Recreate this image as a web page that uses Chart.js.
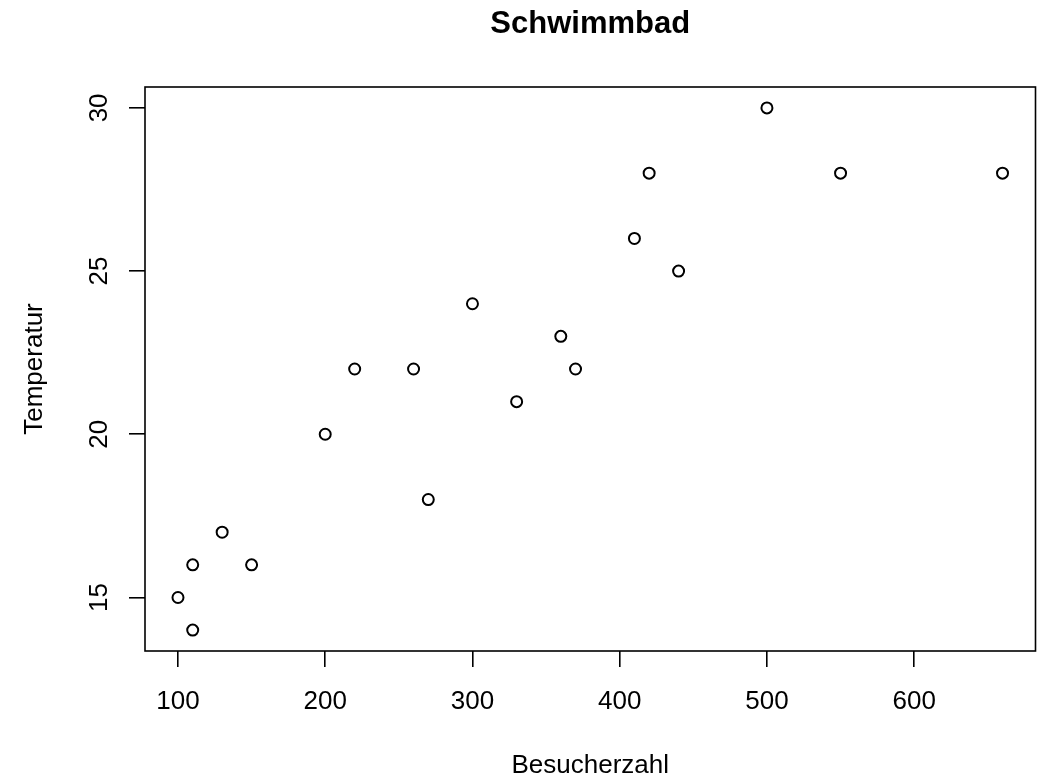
<!DOCTYPE html>
<html>
<head>
<meta charset="utf-8">
<script src="https://cdn.jsdelivr.net/npm/chart.js@4/dist/chart.umd.min.js"></script>
<style>
  html, body { margin: 0; padding: 0; background: #fff; }
  #wrap { width: 1043px; height: 777px; }
</style>
</head>
<body>
<div id="wrap"><canvas id="c" width="1043" height="777"></canvas></div>
<script>
// Data
const besucherzahl = [100, 110, 110, 130, 150, 200, 220, 260, 270, 300, 330, 360, 370, 410, 420, 440, 500, 550, 660];
const temperatur   = [15, 16, 14, 17, 16, 20, 22, 22, 18, 24, 21, 23, 22, 26, 28, 25, 30, 28, 28];
const xTicks = [100, 200, 300, 400, 500, 600];
const yTicks = [15, 20, 25, 30];
const titleText = 'Schwimmbad';
const xLabel = 'Besucherzahl';
const yLabel = 'Temperatur';

const FONT = '"Liberation Sans", Arial, sans-serif';

// R-style 4% axis extension
function ext(arr) {
  const mn = Math.min(...arr), mx = Math.max(...arr), d = (mx - mn) * 0.04;
  return [mn - d, mx + d];
}
const [xMin, xMax] = ext(besucherzahl);
const [yMin, yMax] = ext(temperatur);

const points = besucherzahl.map((x, i) => ({ x: x, y: temperatur[i] }));

const textPlugin = {
  id: 'rtext',
  afterDraw(chart) {
    const ctx = chart.ctx, ca = chart.chartArea;
    ctx.save();
    // box
    ctx.strokeStyle = '#000';
    ctx.lineWidth = 1.6;
    ctx.strokeRect(ca.left, ca.top, ca.right - ca.left, ca.bottom - ca.top);
    ctx.fillStyle = '#000';
    // title
    ctx.font = 'bold 31px ' + FONT;
    ctx.textAlign = 'center';
    ctx.textBaseline = 'alphabetic';
    ctx.fillText(titleText, (ca.left + ca.right) / 2, 33);
    // x label
    ctx.font = '26px ' + FONT;
    ctx.fillText(xLabel, (ca.left + ca.right) / 2, 773);
    // y label
    ctx.save();
    ctx.translate(42, (ca.top + ca.bottom) / 2);
    ctx.rotate(-Math.PI / 2);
    ctx.fillText(yLabel, 0, 0);
    ctx.restore();
    // y tick labels (rotated, R style)
    const ys = chart.scales.y;
    ys.ticks.forEach(t => {
      const py = ys.getPixelForValue(t.value);
      ctx.save();
      ctx.translate(107, py);
      ctx.rotate(-Math.PI / 2);
      ctx.fillText(String(t.value), 0, 0);
      ctx.restore();
    });
    ctx.restore();
  }
};

new Chart(document.getElementById('c'), {
  type: 'scatter',
  data: {
    datasets: [{
      data: points,
      pointStyle: 'circle',
      pointRadius: 5.5,
      pointHoverRadius: 5.5,
      borderColor: '#000',
      backgroundColor: 'rgba(255,255,255,0)',
      pointBorderWidth: 2,
      borderWidth: 2
    }]
  },
  options: {
    responsive: false,
    animation: false,
    devicePixelRatio: 1,
    layout: { padding: { top: 87, right: 6, left: 0, bottom: 0 } },
    plugins: { legend: { display: false }, tooltip: { enabled: false }, title: { display: false } },
    scales: {
      x: {
        type: 'linear',
        min: xMin, max: xMax,
        afterBuildTicks: s => { s.ticks = xTicks.map(v => ({ value: v })); },
        afterFit: s => { s.height = 126; },
        grid: { display: true, drawOnChartArea: false, drawTicks: true, tickLength: 16, color: '#000', lineWidth: 1.6 },
        border: { display: false },
        ticks: { color: '#000', font: { family: FONT, size: 26 }, padding: 19, maxRotation: 0, minRotation: 0, autoSkip: false }
      },
      y: {
        type: 'linear',
        min: yMin, max: yMax,
        afterBuildTicks: s => { s.ticks = yTicks.map(v => ({ value: v })); },
        afterFit: s => { s.width = 145; },
        grid: { display: true, drawOnChartArea: false, drawTicks: true, tickLength: 16, color: '#000', lineWidth: 1.6 },
        border: { display: false },
        ticks: { display: false }
      }
    }
  },
  plugins: [textPlugin]
});
</script>
</body>
</html>
